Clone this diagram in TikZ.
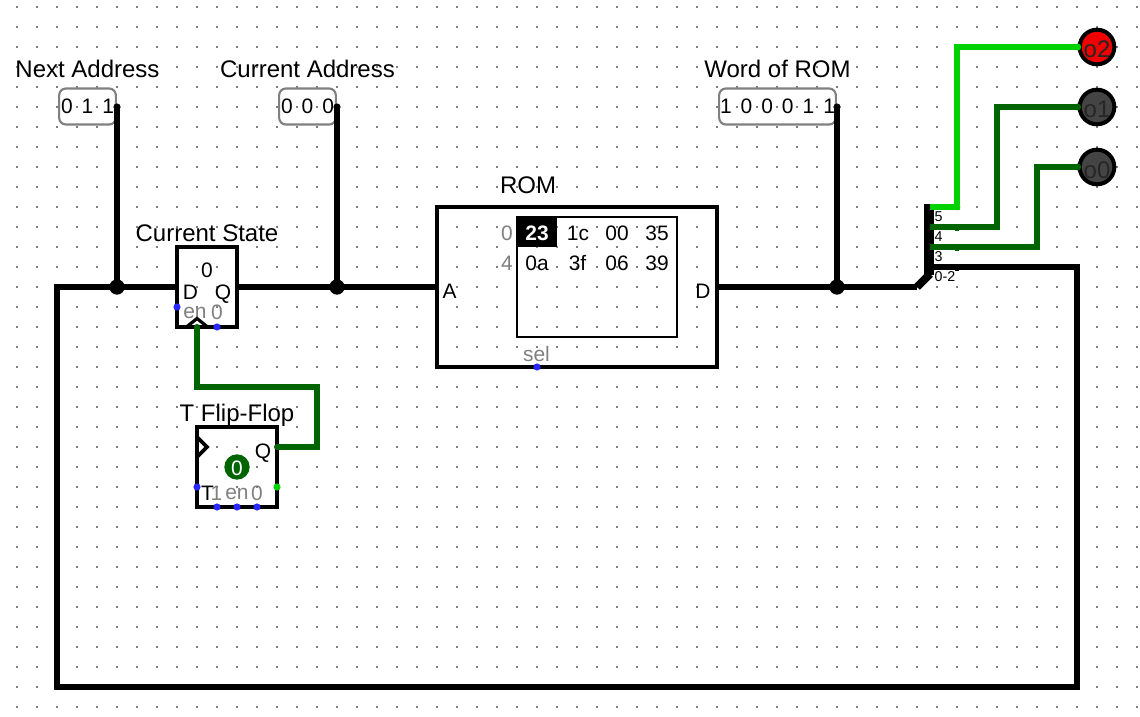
\documentclass[tikz,border=0pt]{standalone}
\usepackage{fontspec}
\setmainfont{Liberation Sans}
\newfontfamily\probefont[WordSpace=1.55]{Liberation Sans}
\usepackage{xcolor}
\usetikzlibrary{arrows.meta,positioning,calc,shapes.geometric}
\definecolor{wireon}{RGB}{0,210,0}
\definecolor{wireoff}{RGB}{0,100,0}
\definecolor{wireblue}{RGB}{40,40,255}
\definecolor{griddot}{RGB}{128,128,128}
\definecolor{ledon}{RGB}{240,0,0}
\definecolor{ledoff}{RGB}{68,68,68}
\begin{document}
\begin{tikzpicture}[
  x=0.75pt, y=-0.75pt,
  wire/.style={line width=4.3pt, line join=miter},
  boxed/.style={draw, line width=3.2pt, inner sep=0pt, outer sep=0pt},
  title/.style={inner sep=0pt, text height=12.7pt, text depth=0pt, font=\fontsize{18}{20}\selectfont},
  txt/.style={inner sep=0pt, text height=11.3pt, text depth=0pt, font=\fontsize{15.7}{18}\selectfont},
  dim/.style={txt, text=black!50},
  tiny/.style={inner sep=0pt, font=\fontsize{10.7}{12}\selectfont},
  probe/.style={draw=black!50, line width=1.6pt, rounded corners=5pt, minimum height=27pt, inner sep=0pt, font=\probefont\fontsize{15.7}{18}\selectfont},
  port/.style={circle, fill=#1, inner sep=0pt, minimum size=5.4pt},
  joint/.style={circle, fill=black, inner sep=0pt, minimum size=11.5pt},
  led/.style={circle, draw=black, fill=#1, line width=3pt, minimum size=26pt, inner sep=0pt, text=black!85, font=\fontsize{18}{20}\selectfont}
]
\useasboundingbox (0,0) rectangle (1140,717);
\fill[white] (0,0) rectangle (1140,717);

% grid
\foreach \gx in {17,37,...,1137}
  \foreach \gy in {7,27,...,707}
    \fill[griddot] (\gx-1,\gy-1) rectangle ++(2,2);

% components
\node[boxed, minimum width=45pt, minimum height=60pt] (reg) at (207,287) {};
\node[boxed, minimum width=60pt, minimum height=60pt] (tff) at (237,467) {};
\node[boxed, minimum width=210pt, minimum height=120pt] (rom) at (577,287) {};
\node[draw, line width=1.5pt, minimum width=120pt, minimum height=90pt, inner sep=0pt, outer sep=0pt] (mem) at (597,277) {};
\fill[black] (mem.north west) rectangle ++(40,30);

\node[probe, minimum width=42.5pt] (nextProbe) at (87.5,106.5) {0 1 1};
\node[probe, minimum width=42.5pt] (currProbe) at (307.5,106.5) {0 0 0};
\node[probe, minimum width=87.5pt] (wordProbe) at (777.5,106.5) {1 0 0 0 1 1};

\node[title, above=7pt of nextProbe] (nextLabel) {Next Address};
\node[title, above=7pt of currProbe] (currLabel) {Current Address};
\node[title, above=7pt of wordProbe] (wordLabel) {Word of ROM};
\node[title, above=3.8pt of reg] (regLabel) {Current State};
\node[title, above=3.8pt of tff] (tffLabel) {T Flip-Flop};
\node[title] (romLabel) at (528,185) {ROM};

% pins
\node[port=black] (nextPin) at (117,107) {};
\node[port=black] (currPin) at (337,107) {};
\node[port=black] (wordPin) at (837,107) {};
\node[joint] (nextJoint) at (117,287) {};
\node[joint] (currJoint) at (337,287) {};
\node[joint] (wordJoint) at (837,287) {};
\coordinate (regD) at (177,287);
\coordinate (regQ) at (237,287);
\coordinate (regClk) at (197,327);
\coordinate (romA) at (437,287);
\coordinate (romD) at (717,287);
\coordinate (tffQ) at (277,447);
\coordinate (splitIn) at (917,287);
\coordinate (splitLow) at (930,267);
\coordinate (splitBit3) at (930,247);
\coordinate (splitBit4) at (930,227);
\coordinate (splitBit5) at (930,207);
\coordinate (loopA) at (57,287);
\coordinate (loopB) at (1077,687);

% splitter
\node[port=wireon, minimum size=5pt] (bit5End) at (957,207) {};
\draw[line width=7.5pt] (929,204) -- (929,275);
\draw[line width=6pt] (splitIn) -- (930,274);

% wires
\draw[wire] (regD) -- (nextJoint.center) -- (loopA) |- (loopB) |- (splitLow);
\draw[wire] (nextPin.center) -- (nextJoint.center);
\draw[wire] (currPin.center) -- (currJoint.center);
\draw[wire] (wordPin.center) -- (wordJoint.center);
\draw[wire] (regQ) -- (currJoint.center) -- (romA);
\draw[wire] (romD) -- (wordJoint.center) -- (splitIn);
\node[led=ledon] (o2) at (1097,47) {\smash{\raisebox{-8.25pt}{o2}}};
\node[led=ledoff] (o1) at (1097,107) {\smash{\raisebox{-8.25pt}{o1}}};
\node[led=ledoff] (o0) at (1097,167) {\smash{\raisebox{-8.25pt}{o0}}};
\draw[wire, color=wireon] (splitBit5) -- (bit5End.center) |- (o2.west);
\draw[wire, color=wireoff] (splitBit4) -| (997,107) -- (o1.west);
\draw[wire, color=wireoff] (splitBit3) -| (1037,167) -- (o0.west);
\draw[wire, color=wireoff] (regClk) -- (197,387) -| (317,447) -- (tffQ);
\fill[wireon] (o2.west) circle (3.5);
\fill[wireoff] (o1.west) circle (3.5);
\fill[wireoff] (o0.west) circle (3.5);
\foreach \ty/\tc in {227/wireoff,247/wireoff,267/black}
  \fill[\tc] (955,\ty-3.5) rectangle ++(4,7);

% register
\node[txt] at (207,270) {0};
\node[txt] at (190.5,292) {D};
\node[txt] at (223,292) {Q};
\node[dim] at (195,311) {en};
\node[dim] at (217,312) {0};
\draw[line width=2.4pt, line join=miter] (187,326.5) -- (197,318.5) -- (207,326.5);
\fill[wireoff] (regClk) circle (3);
\node[port=wireblue] (regEn) at (177,307) {};
\node[port=wireblue] (regClr) at (217,327) {};

% t flip-flop
\draw[line width=2.8pt, line join=miter] (197,437) -- (207,447) -- (197,457);
\node[circle, fill=wireoff, minimum size=19pt, inner sep=0pt] (tffState) at (237,467) {};
\node[txt, text=white] at (237,468) {0};
\node[txt] at (263,451) {Q};
\node[txt] at (207.5,492.5) {T};
\node[dim] at (216.5,493) {1};
\node[dim] at (237,492) {en};
\node[dim] at (257,493) {0};
\fill[wireoff] (tffQ) circle (3);
\foreach \px/\py/\pc in {197/487/wireblue,217/507/wireblue,237/507/wireblue,257/507/wireblue,277/487/wireon}
  \fill[\pc] (\px,\py) circle (3.6);

% rom
\node[txt, text=white, font=\bfseries\fontsize{15.7}{18}\selectfont] at (537,233) {23};
\foreach \cx/\ctxt in {578/1c,617/00,657/35}
  \node[txt] at (\cx,233) {\ctxt};
\foreach \cx/\ctxt in {537/0a,577.5/3f,617/06,657/39}
  \node[txt] at (\cx,263) {\ctxt};
\node[dim] at (507,233) {0};
\node[dim] at (507,263) {4};
\node[txt] at (449.5,291) {A};
\node[txt] at (703,291) {D};
\node[dim] at (536.5,354) {sel};
\node[port=wireblue] (romSel) at (537,367) {};

% splitter labels
\node[tiny] at (938.5,216.5) {5};
\node[tiny] at (938.5,236.5) {4};
\node[tiny] at (938.5,256.5) {3};
\node[tiny] at (945,276.5) {0-2};

\end{tikzpicture}
\end{document}
